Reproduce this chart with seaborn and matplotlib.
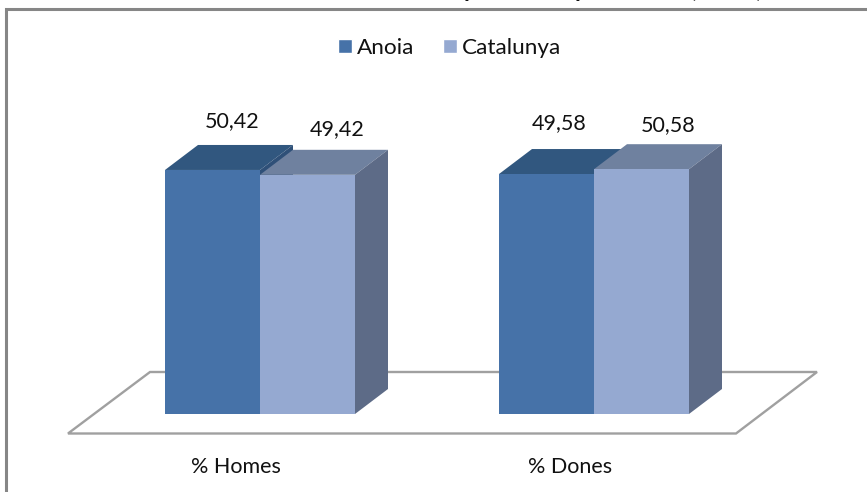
import matplotlib
matplotlib.use("Agg")
import matplotlib.pyplot as plt
from matplotlib.lines import Line2D
from matplotlib.patches import Patch, Polygon
from matplotlib.transforms import ScaledTranslation
import pandas as pd
import seaborn as sns

categories = ["% Homes", "% Dones"]
series_names = ["Anoia", "Catalunya"]
anoia = [50.42, 49.58]
catalunya = [49.42, 50.58]
value_labels = [["50,42", "49,58"], ["49,42", "50,58"]]

W, H = 867, 492
FRONT = ["#4672A8", "#95A9D1"]
TOP = ["#31577F", "#6F819F"]
SIDE = ["#2F5078", "#5D6B87"]
FRAME = "#868686"
FLOOR = "#A0A0A0"
# label offsets from bar centre / top, in pixels
OFFSETS = [[(20, 49), (13, 51)], [(30, 46), (27, 44)]]

sns.set_theme(style="white")
plt.rcParams["font.family"] = ["Lato", "DejaVu Sans"]
FS = 15.5

fig = plt.figure(figsize=(W / 100, H / 100), dpi=100, facecolor="white")
BASE, TOPPX = 414, 20
ax = fig.add_axes([0, (H - BASE) / H, 1, (BASE - TOPPX) / H], facecolor="none")


def fx(x):
    return x / W


def fy(y):
    return 1 - y / H


# floor and outer frame, in figure space
fig.add_artist(Polygon([(fx(68), fy(433.5)), (fx(736), fy(433.5)), (fx(817), fy(372)), (fx(150), fy(372))],
                       closed=True, fill=False, edgecolor=FLOOR, lw=1.7, zorder=0))
fig.add_artist(Line2D([fx(6), fx(6), 1], [0, fy(9), fy(9)], color=FRAME, lw=2.2, zorder=0,
                      solid_joinstyle="miter"))

df = pd.DataFrame({
    "cat": categories * 2,
    "serie": [series_names[0]] * 2 + [series_names[1]] * 2,
    "val": anoia + catalunya,
})
sns.barplot(data=df, x="cat", y="val", hue="serie", hue_order=series_names, palette=FRONT,
            saturation=1, width=190 / 334, gap=0, dodge=True, legend=False, ax=ax, linewidth=0)

PX_CAT, PX_VAL = 334, 4.84
ax.set_xlim(-260 / PX_CAT, (W - 260) / PX_CAT)
ax.set_ylim(0, (BASE - TOPPX) / PX_VAL)
sns.despine(ax=ax, left=True, bottom=True, top=True, right=True)
ax.set_xlabel("")
ax.set_ylabel("")
ax.set_yticks([])
ax.tick_params(axis="x", length=0, pad=31, labelsize=FS, labelcolor="#111111")
shift = ScaledTranslation(-24 / 100, 0, fig.dpi_scale_trans)
for lab in ax.get_xticklabels():
    lab.set_transform(lab.get_transform() + shift)

dx, dy = 33 / PX_CAT, 25 / PX_VAL
bars = list(ax.patches)[:4]
for s in range(2):
    for c in range(2):
        b = bars[s * 2 + c]
        x0, w, h = b.get_x(), b.get_width(), b.get_height()
        z = 2 + s * 2
        b.set_zorder(z + 1)
        ax.add_patch(Polygon([(x0, h), (x0 + w, h), (x0 + w + dx, h + dy), (x0 + dx, h + dy)],
                             closed=True, facecolor=TOP[s], edgecolor="none", zorder=z))
        ax.add_patch(Polygon([(x0 + w, 0), (x0 + w + dx, dy), (x0 + w + dx, h + dy), (x0 + w, h)],
                             closed=True, facecolor=SIDE[s], edgecolor="none", zorder=z))
        ox, oy = OFFSETS[s][c]
        ax.text(x0 + w / 2 + ox / PX_CAT, h + oy / PX_VAL, value_labels[s][c], ha="center", va="center",
                fontsize=FS, color="#111111", zorder=10)

handles = [Patch(facecolor=FRONT[0], label=series_names[0]), Patch(facecolor=FRONT[1], label=series_names[1])]
fig.legend(handles=handles, loc="center", bbox_to_anchor=(fx(449.5), fy(48)), ncol=2, frameon=False,
           fontsize=16.2, handlelength=0.63, handleheight=0.63, handletextpad=0.22, columnspacing=1.25,
           labelcolor="#111111", borderpad=0)

# the title is cut off by the picture's top edge: only these marks are legible
for glyph, x in zip(["p", "p", "(", ")"], [470, 581, 692, 759]):
    fig.text(fx(x), fy(-3), glyph, ha="center", va="baseline", fontsize=17, fontweight="bold",
             color="#111111")

fig.savefig("out.png", dpi=100, facecolor="white")
